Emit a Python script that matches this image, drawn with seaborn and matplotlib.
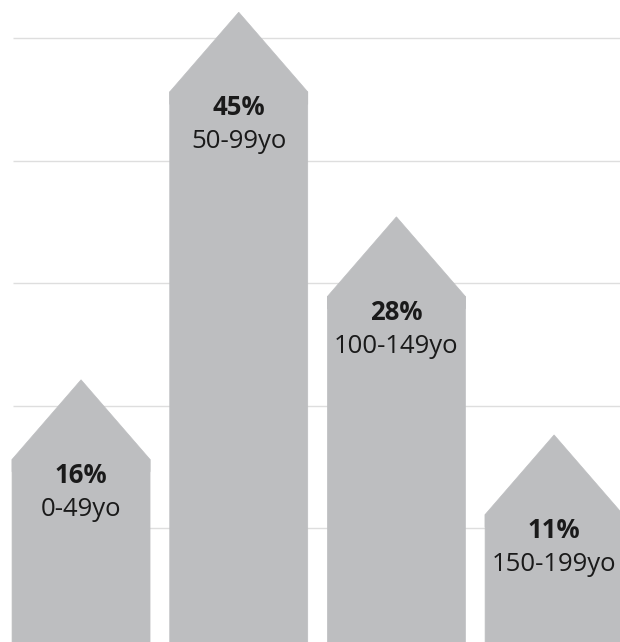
import pandas as pd
import seaborn as sns
import matplotlib.pyplot as plt

# Data
age_groups = ["0-49yo", "50-99yo", "100-149yo", "150-199yo"]
shares = [16, 45, 28, 11]
# shoulder height of each house shape, measured against the grid (step 10)
heights = [15.6, 45.6, 28.9, 11.1]
grid_levels = [10, 20, 30, 40, 50]

BAR_COLOR = "#bdbec0"
GRID_COLOR = "#dedede"
TEXT_COLOR = "#1a1a1a"
ROOF = 6.5  # height of the triangular roof, in data units

sns.set_theme(style="white")
plt.rcParams['font.family'] = ['Open Sans', 'DejaVu Sans']

fig = plt.figure(figsize=(6.2, 6.42), dpi=100)
ax = fig.add_axes([0, 0, 1, 1])

df = pd.DataFrame({"age": age_groups, "height": heights, "share": shares})

# grid lines behind the houses
ax.hlines(grid_levels, -0.43, 3.6, color=GRID_COLOR, lw=1.0, zorder=0)

# rectangle part of each house
sns.barplot(data=df, x="age", y="height", color=BAR_COLOR, saturation=1,
            width=0.875, linewidth=0.5, edgecolor=BAR_COLOR, ax=ax, zorder=2)

# roofs on top of each bar (overlap the bar a little so no seam shows)
for patch in list(ax.patches):
    patch.set_snap(False)  # keep bar edges aligned with the roof polygon
    x0 = patch.get_x()
    w = patch.get_width()
    top = patch.get_height()
    ax.fill([x0, x0, x0 + w / 2, x0 + w, x0 + w],
            [top - 1, top, top + ROOF, top, top - 1],
            facecolor=BAR_COLOR, edgecolor=BAR_COLOR, lw=0.5, zorder=2)

# labels inside the houses
for i, row in df.iterrows():
    ax.text(i, row["height"] - 1.3, f"{row['share']}%", ha="center", va="center",
            fontsize=18.5, fontweight="bold", color=TEXT_COLOR, zorder=3)
    ax.text(i, row["height"] - 4.05, row["age"], ha="center", va="center",
            fontsize=18.5, color=TEXT_COLOR, zorder=3)

ax.set_xlim(-0.514, 3.418)
ax.set_ylim(0.7, 53.1)
ax.axis("off")

fig.savefig("out.png", dpi=100)
plt.close()
